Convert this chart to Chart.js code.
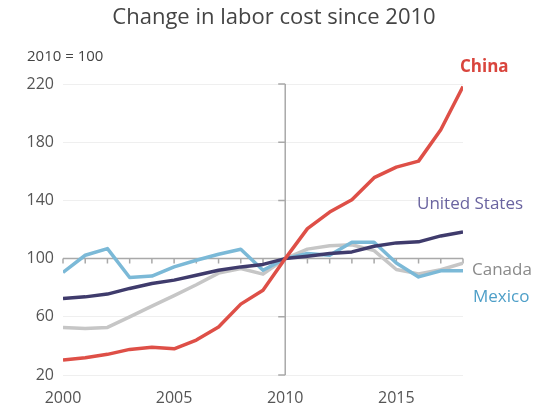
<!DOCTYPE html>
<html>
<head>
<meta charset="utf-8">
<script src="https://cdn.jsdelivr.net/npm/chart.js@4"></script>
<style>
  html, body { margin: 0; padding: 0; background: #fff; }
  #wrap { width: 536px; height: 407px; position: relative; }
</style>
</head>
<body>
<div id="wrap"><canvas id="c" width="536" height="407"></canvas></div>
<script>
const years = [2000,2001,2002,2003,2004,2005,2006,2007,2008,2009,2010,2011,2012,2013,2014,2015,2016,2017,2018];
const china  = [30.3,31.9,34.2,37.6,39,38,44,53,68.7,78.3,100,120.6,132,140.5,155.6,162.9,167,188.6,218.3];
const usa    = [72.6,73.7,75.6,79.5,82.9,85.2,88.6,92,94.3,96,100,101.6,103.5,104.6,108.5,110.8,111.5,115.6,118.3];
const canada = [52.7,52,52.7,60,67.3,74.5,82,90,93.2,89.3,100,106.5,108.8,109.5,105.5,92.5,89.5,92.3,96.8];
const mexico = [90.5,102.3,106.9,87,88,94.3,98.9,103,106.4,92,100,103.5,102.3,111.2,111.2,97,87.4,91.6,91.6];
const yTicks = [20,60,100,140,180,220];
const xTicks = [2000,2005,2010,2015];
const seriesNames = ['China','United States','Mexico','Canada'];
const lineColors = ['#de4f47','#3f3b6c','#7bb9d7','#c6c6c6'];
const labelColors = ['#d9453d','#6a64a0','#4e9fc8','#8a8a8a'];
// label offset (pixels) from each series' last point
const labelOffsets = [[-3,-19,'bold'],[-46,-28,'normal'],[10,26,'normal'],[9,7,'normal']];

const FONT = "'Open Sans', 'DejaVu Sans', sans-serif";
const pts = arr => years.map((y,i) => ({x:y, y:arr[i]}));
const seriesData = [china, usa, mexico, canada];

const axesPlugin = {
  id: 'centerAxes',
  beforeDatasetsDraw(chart) {
    const {ctx, scales:{x, y}} = chart;
    const x0 = x.getPixelForValue(2010);
    const y0 = y.getPixelForValue(100);
    ctx.save();
    ctx.strokeStyle = '#a9a9a9';
    ctx.lineWidth = 1.5;
    ctx.beginPath();
    ctx.moveTo(x0, y.getPixelForValue(220));
    ctx.lineTo(x0, y.getPixelForValue(20));
    yTicks.forEach(v => { const py = y.getPixelForValue(v); ctx.moveTo(x0 - 7, py); ctx.lineTo(x0, py); });
    ctx.moveTo(x.getPixelForValue(2000), y0);
    ctx.lineTo(x.getPixelForValue(2018), y0);
    years.forEach(v => { const px = x.getPixelForValue(v); ctx.moveTo(px, y0); ctx.lineTo(px, y0 + 5); });
    ctx.stroke();
    ctx.restore();
  },
  afterDatasetsDraw(chart) {
    const {ctx, scales:{x, y}} = chart;
    ctx.save();
    ctx.textBaseline = 'middle';
    ctx.textAlign = 'left';
    ctx.fillStyle = '#444';
    ctx.font = "15px " + FONT;
    ctx.fillText('2010 = 100', 27, 57);
    chart.data.datasets.forEach((ds, i) => {
      const last = ds.data[ds.data.length - 1];
      const px = x.getPixelForValue(last.x), py = y.getPixelForValue(last.y);
      const [dx, dy, w] = labelOffsets[i];
      ctx.font = w + " 17px " + FONT;
      ctx.fillStyle = labelColors[i];
      ctx.fillText(ds.label, px + dx, py + dy);
    });
    ctx.restore();
  }
};

new Chart(document.getElementById('c'), {
  type: 'line',
  data: {
    datasets: seriesNames.map((n, i) => ({
      label: n,
      data: pts(seriesData[i]),
      borderColor: lineColors[i],
      backgroundColor: lineColors[i],
      borderWidth: 3.5,
      pointRadius: 0,
      tension: 0,
      borderCapStyle: 'butt',
      borderJoinStyle: 'round'
    }))
  },
  options: {
    responsive: false,
    animation: false,
    events: [],
    layout: { padding: { left: 12, right: 0, top: 0, bottom: 0 } },
    plugins: {
      legend: { display: false },
      tooltip: { enabled: false },
      title: {
        display: true,
        text: 'Change in labor cost since 2010',
        color: '#444',
        font: { family: FONT, size: 22, weight: 'normal' },
        padding: { top: 5, bottom: 52.6 }
      }
    },
    scales: {
      x: {
        type: 'linear',
        min: 2000, max: 2018,
        afterBuildTicks: s => { s.ticks = xTicks.map(v => ({value: v})); },
        afterFit: s => { s.height = 32; },
        grid: { display: false, drawTicks: false },
        border: { display: false },
        ticks: { color: '#555', padding: 14, font: { family: FONT, size: 16 }, callback: v => String(v), maxRotation: 0 }
      },
      y: {
        min: 20, max: 220,
        afterBuildTicks: s => { s.ticks = yTicks.map(v => ({value: v})); },
        afterFit: s => { s.width = 51; },
        grid: { color: c => c.tick && c.tick.value === 100 ? 'rgba(0,0,0,0)' : '#efefef', lineWidth: 1, drawTicks: false },
        border: { display: false },
        ticks: { color: '#555', padding: 9, font: { family: FONT, size: 16 } }
      },
      yRight: {
        position: 'right',
        min: 20, max: 220,
        afterFit: s => { s.width = 73; },
        grid: { display: false, drawOnChartArea: false, drawTicks: false },
        border: { display: false },
        ticks: { display: false }
      }
    }
  },
  plugins: [axesPlugin]
});
</script>
</body>
</html>
